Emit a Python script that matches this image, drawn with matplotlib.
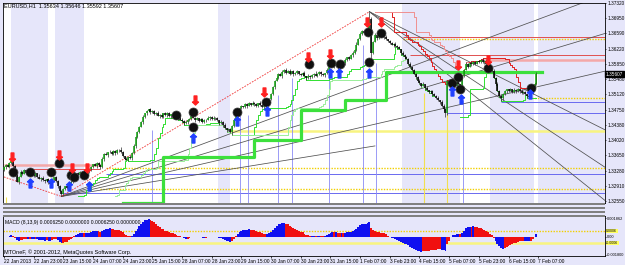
import numpy as np
import pandas as pd
import matplotlib
matplotlib.use('Agg')
import matplotlib.pyplot as plt
from matplotlib.patches import Rectangle

plt.rcParams['font.family'] = ['Liberation Sans', 'DejaVu Sans']

# EURUSD H1 closes, 22 Jan - 7 Feb 2013 (16 bars per row)
closes = [
    1.3336, 1.3342, 1.3338, 1.3346, 1.3351, 1.3339, 1.3318, 1.3301, 1.3314, 1.3326, 1.3321, 1.3329, 1.3323, 1.3319, 1.3326, 1.3320,
    1.3316, 1.3322, 1.3314, 1.3309, 1.3311, 1.3305, 1.3302, 1.3308, 1.3301, 1.3297, 1.3306, 1.3313, 1.3304, 1.3291, 1.3279, 1.3272,
    1.3284, 1.3290, 1.3286, 1.3296, 1.3301, 1.3306, 1.3314, 1.3322, 1.3317, 1.3325, 1.3319, 1.3315, 1.3321, 1.3324, 1.3331, 1.3338,
    1.3343, 1.3340, 1.3347, 1.3342, 1.3336, 1.3355, 1.3369, 1.3366, 1.3372, 1.3374, 1.3368, 1.3375, 1.3371, 1.3377, 1.3379, 1.3372,
    1.3363, 1.3357, 1.3354, 1.3361, 1.3358, 1.3370, 1.3388, 1.3409, 1.3421, 1.3434, 1.3445, 1.3458, 1.3466, 1.3471, 1.3476, 1.3469,
    1.3472, 1.3465, 1.3468, 1.3460, 1.3463, 1.3458, 1.3466, 1.3461, 1.3467, 1.3459, 1.3464, 1.3462, 1.3457, 1.3454, 1.3458, 1.3451,
    1.3448, 1.3442, 1.3445, 1.3449, 1.3453, 1.3460, 1.3456, 1.3451, 1.3454, 1.3448, 1.3452, 1.3446, 1.3449, 1.3451, 1.3455, 1.3458,
    1.3452, 1.3456, 1.3454, 1.3449, 1.3443, 1.3446, 1.3438, 1.3431, 1.3425, 1.3428, 1.3421, 1.3436, 1.3451, 1.3466, 1.3473, 1.3478,
    1.3484, 1.3481, 1.3488, 1.3485, 1.3491, 1.3487, 1.3492, 1.3489, 1.3484, 1.3490, 1.3486, 1.3482, 1.3488, 1.3485, 1.3493, 1.3501,
    1.3512, 1.3529, 1.3545, 1.3552, 1.3561, 1.3557, 1.3566, 1.3571, 1.3564, 1.3569, 1.3562, 1.3567, 1.3560, 1.3564, 1.3567, 1.3561,
    1.3558, 1.3563, 1.3556, 1.3551, 1.3557, 1.3553, 1.3559, 1.3562, 1.3557, 1.3561, 1.3565, 1.3560, 1.3558, 1.3563, 1.3571, 1.3583,
    1.3590, 1.3585, 1.3580, 1.3586, 1.3579, 1.3583, 1.3590, 1.3587, 1.3595, 1.3601, 1.3598, 1.3606, 1.3612, 1.3619, 1.3632, 1.3645,
    1.3658, 1.3664, 1.3660, 1.3668, 1.3672, 1.3694, 1.3612, 1.3638, 1.3654, 1.3648, 1.3657, 1.3652, 1.3659, 1.3651, 1.3645, 1.3641,
    1.3636, 1.3631, 1.3634, 1.3629, 1.3625, 1.3621, 1.3612, 1.3606, 1.3601, 1.3598, 1.3586, 1.3578, 1.3570, 1.3562, 1.3553, 1.3545,
    1.3539, 1.3533, 1.3536, 1.3527, 1.3522, 1.3517, 1.3520, 1.3512, 1.3508, 1.3504, 1.3498, 1.3493, 1.3485, 1.3476, 1.3466, 1.3545,
    1.3538, 1.3546, 1.3541, 1.3532, 1.3544, 1.3536, 1.3530, 1.3556, 1.3571, 1.3584, 1.3579, 1.3588, 1.3584, 1.3590, 1.3586, 1.3592,
    1.3590, 1.3595, 1.3589, 1.3593, 1.3586, 1.3580, 1.3576, 1.3568, 1.3552, 1.3538, 1.3521, 1.3508, 1.3503, 1.3512, 1.3519, 1.3524,
    1.3520, 1.3525, 1.3518, 1.3523, 1.3519, 1.3524, 1.3520, 1.3515, 1.3518, 1.3512, 1.3508, 1.3506, 1.3514, 1.3529, 1.3537, 1.3561,
]
first_open = 1.3330
last_price = '1.35607'

# wick lengths in pips (one digit per bar)
up_wick = ("3214232514231342" "2315242132413223" "3241523142314231" "2413252314232415"
           "3142524321342312" "2314231423152423" "3241324231423142" "2314232514324231"
           "3142314231523142" "2315324142314231" "3241423152423142" "2315423142324153"
           "3241534252314231" "2314231423152423" "3152413242315342" "2413242315324231"
           "3241423152314231" "2314231423152425")
down_wick = ("2413243152314231" "3241523142324513" "2314231425132423" "3152423142315231"
             "2413241523142324" "3241523142314231" "2314231523142314" "3241524231563142"
             "2315231423142315" "3142315231423142" "2314231524231423" "3241523142315232"
             "2315242314231523" "3142315231423142" "2415232413243563" "3142315231423142"
             "2315242314231523" "3142315231423142")
high_fix = {197: 1.3711}
low_fix = {31: 1.3266, 122: 1.3418, 198: 1.3598, 238: 1.3458, 246: 1.3524, 268: 1.3497}

date_labels = ["22 Jan 2013", "22 Jan 23:00", "23 Jan 15:00", "24 Jan 07:00", "24 Jan 23:00",
               "25 Jan 15:00", "28 Jan 07:00", "28 Jan 23:00", "29 Jan 15:00", "30 Jan 07:00",
               "30 Jan 23:00", "31 Jan 15:00", "1 Feb 07:00", "3 Feb 23:00", "4 Feb 15:00",
               "5 Feb 07:00", "5 Feb 23:00", "6 Feb 15:00", "7 Feb 07:00"]
price_labels = ["1.32550", "1.32910", "1.33280", "1.33650", "1.34020", "1.34380", "1.34750",
                "1.35120", "1.35480", "1.35850", "1.36220", "1.36590", "1.36950", "1.37320"]

# session shading (bar ranges)
band_start = [3.7, 27.7, 115.2, 214.4, 261.9, 288.0]
band_end = [23.5, 43.2, 122.1, 245.9, 285.9, 324.0]

# thick green trailing staircase
stair_bars = [64, 86, 135, 160, 184, 206, 290]
stair_levels = [1.3251, 1.3361, 1.3402, 1.3474, 1.3498, 1.3566, 1.3566]

# zigzag and fans
zz_bars = [0, 31, 197]
zz_prices = [1.3313, 1.3266, 1.3711]
fan_low_slopes = [0.000166, 0.000134, 0.000103, 0.000072]
fan_low_end = [324, 324, 324, 200]
fan_high_slopes = [-0.000224, -0.000295, -0.000358]

# horizontal levels
ydot_levels = [1.3284, 1.3334, 1.3503, 1.3645]
ydot_from = [52, 55, 283, 215]
blue_levels = [1.3274, 1.3320, 1.3467, 1.3493]
blue_from = [31, 55, 239, 268]
red_levels = [1.3332, 1.3606, 1.3650]
red_from = [14, 219, 215]
red_to = [52, 324, 324]
pink_levels = [1.3342, 1.3594]
pink_from = [0, 258]
pink_to = [52, 324]
ysolid_level = 1.3423
ysolid_from = 122

# vertical marker lines
vblue_bars = [80, 127, 131.5, 147.7, 155.2, 175, 193.4, 200.4, 247.7]
vblue_tops = [1.3426, 1.3469, 1.3462, 1.3510, 1.3551, 1.3566, 1.3630, 1.3587, 1.3498]
vyel_bars = [1.3, 226.2, 239.1]
vyel_tops = [1.3265, 1.3515, 1.3467]

# signal markers
dot_bars = [4.8, 13.9, 25.6, 29.9, 36.3, 37.9, 43.2, 92.8, 101.9, 101.9, 125.9, 141.3, 164.3,
            176.5, 181.3, 196.3, 196.8, 203.2, 241.6, 244.8, 245.9, 260.8, 284.3]
dot_prices = [1.3325, 1.3325, 1.3325, 1.3347, 1.3318, 1.3313, 1.3318, 1.3462, 1.3469, 1.3433,
              1.3469, 1.3493, 1.3585, 1.3587, 1.3585, 1.3662, 1.3590, 1.3659, 1.3539, 1.3554,
              1.3525, 1.3575, 1.3527]
sell_bars = [4.3, 29.9, 36.8, 44.8, 102.9, 140.3, 163.7, 175.5, 195.7, 203.2, 244.8, 260.8]
sell_prices = [1.3361, 1.3366, 1.3335, 1.3335, 1.3498, 1.3517, 1.3601, 1.3609, 1.3686, 1.3686,
               1.3582, 1.3594]
buy_bars = [13.9, 25.6, 35.2, 45.9, 101.9, 125.9, 141.8, 175.5, 180.8, 196.8, 241.6, 246.4, 283.7]
buy_prices = [1.3298, 1.3298, 1.3291, 1.3291, 1.3406, 1.3447, 1.3471, 1.3563, 1.3563, 1.3563,
              1.3519, 1.3500, 1.3512]

macd_levels = [0.0006, -0.0006]
macd_ticks = [0.00186, 0.0, -0.0018]
macd_tick_labels = ['0.001862', '0.00', '-0.001800']

lav = '#E6E6FA'
c = np.array(closes)
n = len(c)
x = np.arange(n)
o = np.concatenate([[first_open], c[:-1]])
hi = np.maximum(o, c) + np.array([int(d) for d in up_wick]) * 0.0001
lo = np.minimum(o, c) - np.array([int(d) for d in down_wick]) * 0.0001
for k, v in high_fix.items():
    hi[k] = v
for k, v in low_fix.items():
    lo[k] = v

fig = plt.figure(figsize=(6.25, 2.65), dpi=100, facecolor=lav)
ax = fig.add_axes([3/625, 1-203/265, 602/625, 200/265], facecolor='white')
ax2 = fig.add_axes([3/625, 1-256/265, 602/625, 40/265], facecolor=lav)

XMAX = 324
ax.set_xlim(-0.5, XMAX)
ax.set_ylim(1.32502, 1.37316)
for s, e in zip(band_start, band_end):
    ax.axvspan(s, e, color=lav, lw=0, zorder=0)

# levels
for lv, f0 in zip(ydot_levels, ydot_from):
    ax.hlines(lv, f0, XMAX, color='#F2D000', lw=1.0, ls=(0, (1, 1)), zorder=1)
for lv, f0 in zip(blue_levels, blue_from):
    ax.hlines(lv, f0, XMAX, color='#6A6AF0', lw=0.7, zorder=1)
for lv, f0, t0 in zip(red_levels, red_from, red_to):
    ax.hlines(lv, f0, t0, color='#E05050', lw=0.7, zorder=1)
for lv, f0, t0 in zip(pink_levels, pink_from, pink_to):
    ax.hlines(lv, f0, t0, color='#F4A8A8', lw=1.8, zorder=1)
ax.hlines(ysolid_level, ysolid_from, XMAX, color='#F8F480', lw=1.8, zorder=1)

for b, t in zip(vblue_bars, vblue_tops):
    ax.vlines(b, 1.32502, t, color='#8A8AF5', lw=0.6, zorder=1)
for b, t in zip(vyel_bars, vyel_tops):
    ax.vlines(b, 1.32502, t, color='#F2E050', lw=0.8, zorder=1)

# fans
for s, e in zip(fan_low_slopes, fan_low_end):
    xs = np.array([zz_bars[1], e])
    ax.plot(xs, zz_prices[1] + s * (xs - zz_bars[1]), color='#505050', lw=0.55, zorder=2)
for s in fan_high_slopes:
    xs = np.array([zz_bars[2], XMAX])
    ax.plot(xs, zz_prices[2] + s * (xs - zz_bars[2]), color='#505050', lw=0.55, zorder=2)
ax.plot(zz_bars, zz_prices, color='#F03030', lw=0.6, ls=(0, (2, 1.5)), zorder=2)

# trailing lines
lo_s = pd.Series(lo)
hi_s = pd.Series(hi)
tr_fast = lo_s.rolling(12, min_periods=1).min().values
tr_slow = lo_s.rolling(30, min_periods=1).min().values
tr_red = hi_s.rolling(12, min_periods=1).max().values
tr_red2 = hi_s.rolling(24, min_periods=1).max().values
seg = (x >= 40) & (x <= 232)
ax.step(x[seg], tr_fast[seg], where='post', color='#30E030', lw=0.7, zorder=2)
seg = (x >= 60) & (x <= 226)
ax.step(x[seg], tr_slow[seg], where='post', color='#9AEE9A', lw=0.7, zorder=2)
seg = (x >= 200) & (x <= 287)
ax.step(x[seg], tr_red[seg], where='post', color='#E02020', lw=0.7, zorder=2)
seg = (x >= 200) & (x <= 250)
ax.step(x[seg], tr_red2[seg], where='post', color='#F09090', lw=0.7, zorder=2)
seg = x >= 246
ax.step(x[seg], tr_fast[seg], where='post', color='#30E030', lw=0.7, zorder=2)

ax.step(stair_bars, stair_levels, where='post', color='#3CE03C', lw=2.3, zorder=3)

# candles
up = c >= o
ax.vlines(x, lo, hi, color='#303030', lw=0.5, zorder=4)
ax.vlines(x[up], o[up], c[up], color='#10A010', lw=1.1, zorder=5)
ax.vlines(x[~up], o[~up], c[~up], color='black', lw=1.1, zorder=5)

# signals
ax.plot(dot_bars, dot_prices, ls='none', marker='o', ms=6.5, color='#101010',
        mec='#404040', mew=0.5, zorder=6)
ax.plot(sell_bars, sell_prices, ls='none', marker='$\u2B07$', ms=6.5, color='#FF2020', zorder=7)
ax.plot(buy_bars, buy_prices, ls='none', marker='$\u2B06$', ms=6.5, color='#2040FF', zorder=7)

ax.yaxis.tick_right()
ax.set_yticks([float(v) for v in price_labels])
ax.set_yticklabels(price_labels)
ax.tick_params(axis='y', labelsize=3.4, length=1, width=0.5, pad=0.6)
ax.set_xticks([])
for sp in ax.spines.values():
    sp.set_linewidth(0.6)
ax.text(0.001, 0.997, 'EURUSD,H1  1.35634 1.35646 1.35592 1.35607', transform=ax.transAxes,
        fontsize=4.0, va='top', ha='left', zorder=9)
ax.text(1.0015, float(last_price), last_price,
        transform=ax.get_yaxis_transform(), fontsize=3.4, color='white', va='center', ha='left',
        bbox=dict(facecolor='black', edgecolor='black', pad=0.5), zorder=9, clip_on=False)

# collapsed indicator windows
for yy in [203, 207, 211, 214.5]:
    fig.patches.append(Rectangle((3/625, 1-(yy+2)/265), 602/625, 2/265, transform=fig.transFigure,
                                 facecolor='#808080', edgecolor='none'))

# MACD window
ema_fast = pd.Series(c).ewm(span=8, adjust=False).mean()
ema_slow = pd.Series(c).ewm(span=13, adjust=False).mean()
macd = (ema_fast - ema_slow).values
grow = np.abs(macd) >= np.abs(np.concatenate([[0], macd[:-1]]))
ax2.bar(x, macd, width=1.0, color=np.where(grow, '#1010F0', '#F01010'), lw=0, zorder=2)
ax2.axhline(macd_levels[0], color='#F2D000', lw=1.0, ls=(0, (1, 1)), zorder=1)
ax2.axhline(macd_levels[1], color='#F8F480', lw=1.8, zorder=1)
ax2.set_xlim(-0.5, XMAX)
ax2.set_ylim(-0.0019, 0.0021)
ax2.yaxis.tick_right()
ax2.set_yticks(macd_ticks)
ax2.set_yticklabels(macd_tick_labels)
ax2.set_xticks(np.arange(len(date_labels)) * 16)
ax2.set_xticklabels(date_labels, ha='left')
ax2.tick_params(axis='x', labelsize=3.5, length=1.5, width=0.5, pad=1)
ax2.tick_params(axis='y', labelsize=2.8, length=1, width=0.5, pad=0.4)
for lv in macd_levels:
    ax2.text(1.002, lv, f'{lv:.4f}', transform=ax2.get_yaxis_transform(), fontsize=2.6,
             va='center', ha='left', bbox=dict(facecolor='#FFFF60', edgecolor='none', pad=0.3),
             clip_on=False)
for sp in ax2.spines.values():
    sp.set_linewidth(0.6)
ax2.text(0.004, 0.83, 'MACD (8,13,9) 0.0006250 0.0000000 0.0006250 0.0000000',
         transform=ax2.transAxes, fontsize=3.6, va='center')
ax2.text(0.001, 0.03, 'MTOneF, \u00a9 2001-2012, MetaQuotes Software Corp.',
         transform=ax2.transAxes, fontsize=4.0, va='bottom')

fig.savefig('out.png', dpi=100, facecolor=fig.get_facecolor())
